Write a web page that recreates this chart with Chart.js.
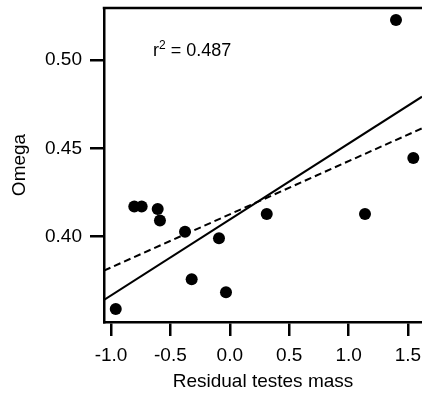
<!DOCTYPE html>
<html lang="en">
<head>
  <meta charset="UTF-8">
  <script src="https://cdn.jsdelivr.net/npm/chart.js"></script>
  <style>
    body, html {
      margin: 0;
      padding: 0;
      background: #fff;
      overflow: hidden;
    }
    .chart-box {
      width: 422px;
      height: 398px;
    }
  </style>
</head>
<body>
  <div class="chart-box">
    <canvas id="omega-chart" width="422" height="398"></canvas>
  </div>
  <script>
    // residual testes mass vs omega
    const testesMass = [1.399, 1.545, 1.138, 0.311, -0.091, -0.032, -0.321, -0.377, -0.588, -0.607, -0.804, -0.742, -0.960];
    const omega = [0.5226, 0.4445, 0.4128, 0.4128, 0.3991, 0.3685, 0.3759, 0.4028, 0.4091, 0.4157, 0.4170, 0.4170, 0.3591];

    // fitted lines, ends at the edges of the x range
    const fitX = [-1.059, 1.618];
    const solidFitY = [0.3642, 0.4792];
    const dashedFitY = [0.3808, 0.4613];

    const xTicks = [-1.0, -0.5, 0.0, 0.5, 1.0, 1.5];
    const yTicks = [0.40, 0.45, 0.50];
    const r2Value = ' = 0.487';

    const font = "'Liberation Sans', Arial, sans-serif";

    const framePlugin = {
      id: 'frame',
      afterDraw(chart) {
        const { ctx, chartArea } = chart;
        ctx.save();
        ctx.strokeStyle = '#000';
        ctx.lineWidth = 2.5;
        ctx.beginPath();
        ctx.moveTo(chartArea.left - 1.25, chartArea.top);
        ctx.lineTo(chartArea.right, chartArea.top);
        ctx.stroke();

        // r squared note, "2" as a superscript
        let x = chart.scales.x.getPixelForValue(-0.646);
        const y = chart.scales.y.getPixelForValue(0.5051);
        ctx.fillStyle = '#000';
        ctx.textAlign = 'left';
        ctx.textBaseline = 'middle';
        ctx.font = '18px ' + font;
        ctx.fillText('r', x, y);
        x += ctx.measureText('r').width;
        ctx.font = '12px ' + font;
        ctx.fillText('2', x, y - 5);
        x += ctx.measureText('2').width;
        ctx.font = '18px ' + font;
        ctx.fillText(r2Value, x, y);
        ctx.restore();
      }
    };

    const points = testesMass.map((v, i) => ({ x: v, y: omega[i] }));
    const solidLine = fitX.map((v, i) => ({ x: v, y: solidFitY[i] }));
    const dashedLine = fitX.map((v, i) => ({ x: v, y: dashedFitY[i] }));

    new Chart(document.getElementById('omega-chart'), {
      type: 'scatter',
      data: {
        datasets: [
          {
            data: solidLine,
            showLine: true,
            borderColor: '#000',
            borderWidth: 2,
            pointRadius: 0
          },
          {
            data: dashedLine,
            showLine: true,
            borderColor: '#000',
            borderWidth: 2,
            borderDash: [7, 4],
            pointRadius: 0
          },
          {
            data: points,
            backgroundColor: '#000',
            borderWidth: 0,
            pointRadius: 6,
            pointHoverRadius: 6
          }
        ]
      },
      options: {
        responsive: false,
        animation: false,
        layout: { autoPadding: false, padding: { top: 8, right: 0, left: 0, bottom: 0 } },
        plugins: {
          legend: { display: false },
          tooltip: { enabled: false }
        },
        scales: {
          x: {
            type: 'linear',
            min: -1.059,
            max: 1.618,
            afterFit: s => { s.height = 76; s.paddingLeft = 0; s.paddingRight = 0; },
            afterBuildTicks: s => { s.ticks = xTicks.map(v => ({ value: v })); },
            border: { color: '#000', width: 2.5 },
            grid: { drawOnChartArea: false, tickLength: 14, color: '#000', lineWidth: 2.5 },
            ticks: {
              color: '#000',
              padding: 8,
              font: { family: font, size: 19 },
              callback: v => v.toFixed(1)
            },
            title: {
              display: true,
              text: 'Residual testes mass',
              color: '#000',
              font: { family: font, size: 19 },
              padding: { top: 0, bottom: 5 }
            }
          },
          y: {
            type: 'linear',
            min: 0.3517,
            max: 0.5294,
            afterFit: s => { s.width = 104; s.paddingTop = 0; s.paddingBottom = 0; },
            afterBuildTicks: s => { s.ticks = yTicks.map(v => ({ value: v })); },
            border: { color: '#000', width: 2.5 },
            grid: { drawOnChartArea: false, tickLength: 14, color: '#000', lineWidth: 2.5 },
            ticks: {
              color: '#000',
              padding: 8,
              font: { family: font, size: 19 },
              callback: v => v.toFixed(2)
            },
            title: {
              display: true,
              text: 'Omega',
              color: '#000',
              font: { family: font, size: 19 },
              padding: { top: 8, bottom: 0 }
            }
          }
        }
      },
      plugins: [framePlugin]
    });
  </script>
</body>
</html>
